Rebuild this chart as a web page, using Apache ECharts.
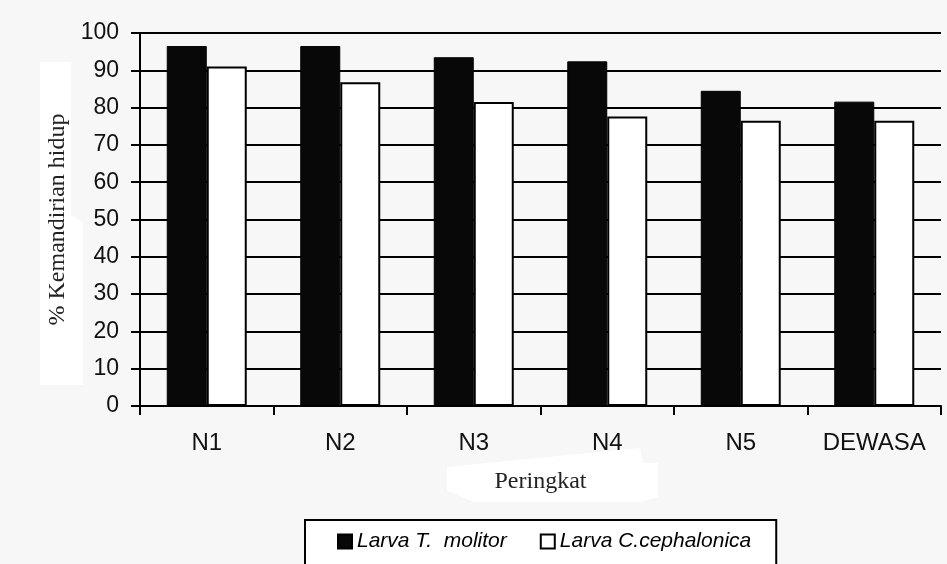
<!DOCTYPE html>
<html>
<head>
<meta charset="utf-8">
<script src="https://cdn.jsdelivr.net/npm/echarts@6/dist/echarts.min.js"></script>
<style>
html,body{margin:0;padding:0;background:#f7f7f7;}
#chart{width:947px;height:564px;}
</style>
</head>
<body>
<div id="chart"></div>
<script>
const categories = ['N1', 'N2', 'N3', 'N4', 'N5', 'DEWASA'];
const seriesNames = ['Larva T.  molitor', 'Larva C.cephalonica'];
const molitorValues = [96.5, 96.5, 93.5, 92.4, 84.5, 81.6];
const cephalonicaValues = [91.0, 86.8, 81.5, 77.6, 76.5, 76.5];
const yTicks = { min: 0, max: 100, interval: 10 };
const xTitle = 'Peringkat';
const yTitle = '% Kemandirian hidup';

const chart = echarts.init(document.getElementById('chart'));
chart.setOption({
  backgroundColor: '#f7f7f7',
  animation: false,
  graphic: [
    { type: 'polygon', z: 0, silent: true,
      shape: { points: [[40,62],[71,62],[71,215],[83,222],[83,385],[40,385]] },
      style: { fill: '#ffffff' } },
    { type: 'polygon', z: 0, silent: true,
      shape: { points: [[447,467],[640,448],[643,463],[658,463],[658,497],[640,502],[473,502],[447,490]] },
      style: { fill: '#ffffff' } }
  ],
  grid: { left: 140, right: 6, top: 33, bottom: 158, containLabel: false },
  legend: {
    left: 305, top: 520,
    padding: [11, 25, 20, 32],
    itemGap: 33,
    itemWidth: 14, itemHeight: 14,
    icon: 'rect',
    backgroundColor: '#ffffff',
    borderColor: '#000', borderWidth: 2,
    textStyle: { fontFamily: 'Liberation Sans, Arial, sans-serif', fontStyle: 'italic', fontSize: 21, color: '#000' },
    data: seriesNames
  },
  xAxis: {
    type: 'category',
    data: categories,
    name: xTitle,
    nameLocation: 'middle',
    nameGap: 64,
    nameTextStyle: { fontFamily: 'Liberation Serif, Times New Roman, serif', fontSize: 24, color: '#222' },
    axisLine: { lineStyle: { color: '#000', width: 2 } },
    axisTick: { show: true, interval: 0, length: 9, lineStyle: { color: '#000', width: 2 } },
    axisLabel: { interval: 0, margin: 25, fontFamily: 'Liberation Sans, Arial, sans-serif', fontSize: 24, color: '#111' },
    splitLine: { show: false }
  },
  yAxis: {
    type: 'value',
    min: yTicks.min, max: yTicks.max, interval: yTicks.interval,
    name: yTitle,
    nameLocation: 'middle',
    nameGap: 67,
    nameRotate: 90,
    nameTextStyle: { fontFamily: 'Liberation Serif, Times New Roman, serif', fontSize: 24, color: '#222' },
    axisLine: { show: true, lineStyle: { color: '#000', width: 2 } },
    axisTick: { show: true, length: 9, lineStyle: { color: '#000', width: 2 } },
    axisLabel: { margin: 21, fontFamily: 'Liberation Sans, Arial, sans-serif', fontSize: 23, color: '#111' },
    splitLine: { show: true, lineStyle: { color: '#000', width: 2 } }
  },
  series: [
    { name: seriesNames[0], type: 'bar', data: molitorValues, barWidth: 40, barGap: '0%',
      itemStyle: { color: '#080808', borderColor: '#000', borderWidth: 1 } },
    { name: seriesNames[1], type: 'bar', data: cephalonicaValues, barWidth: 40, barGap: '0%',
      itemStyle: { color: '#ffffff', borderColor: '#000', borderWidth: 2 } }
  ]
});
</script>
</body>
</html>
